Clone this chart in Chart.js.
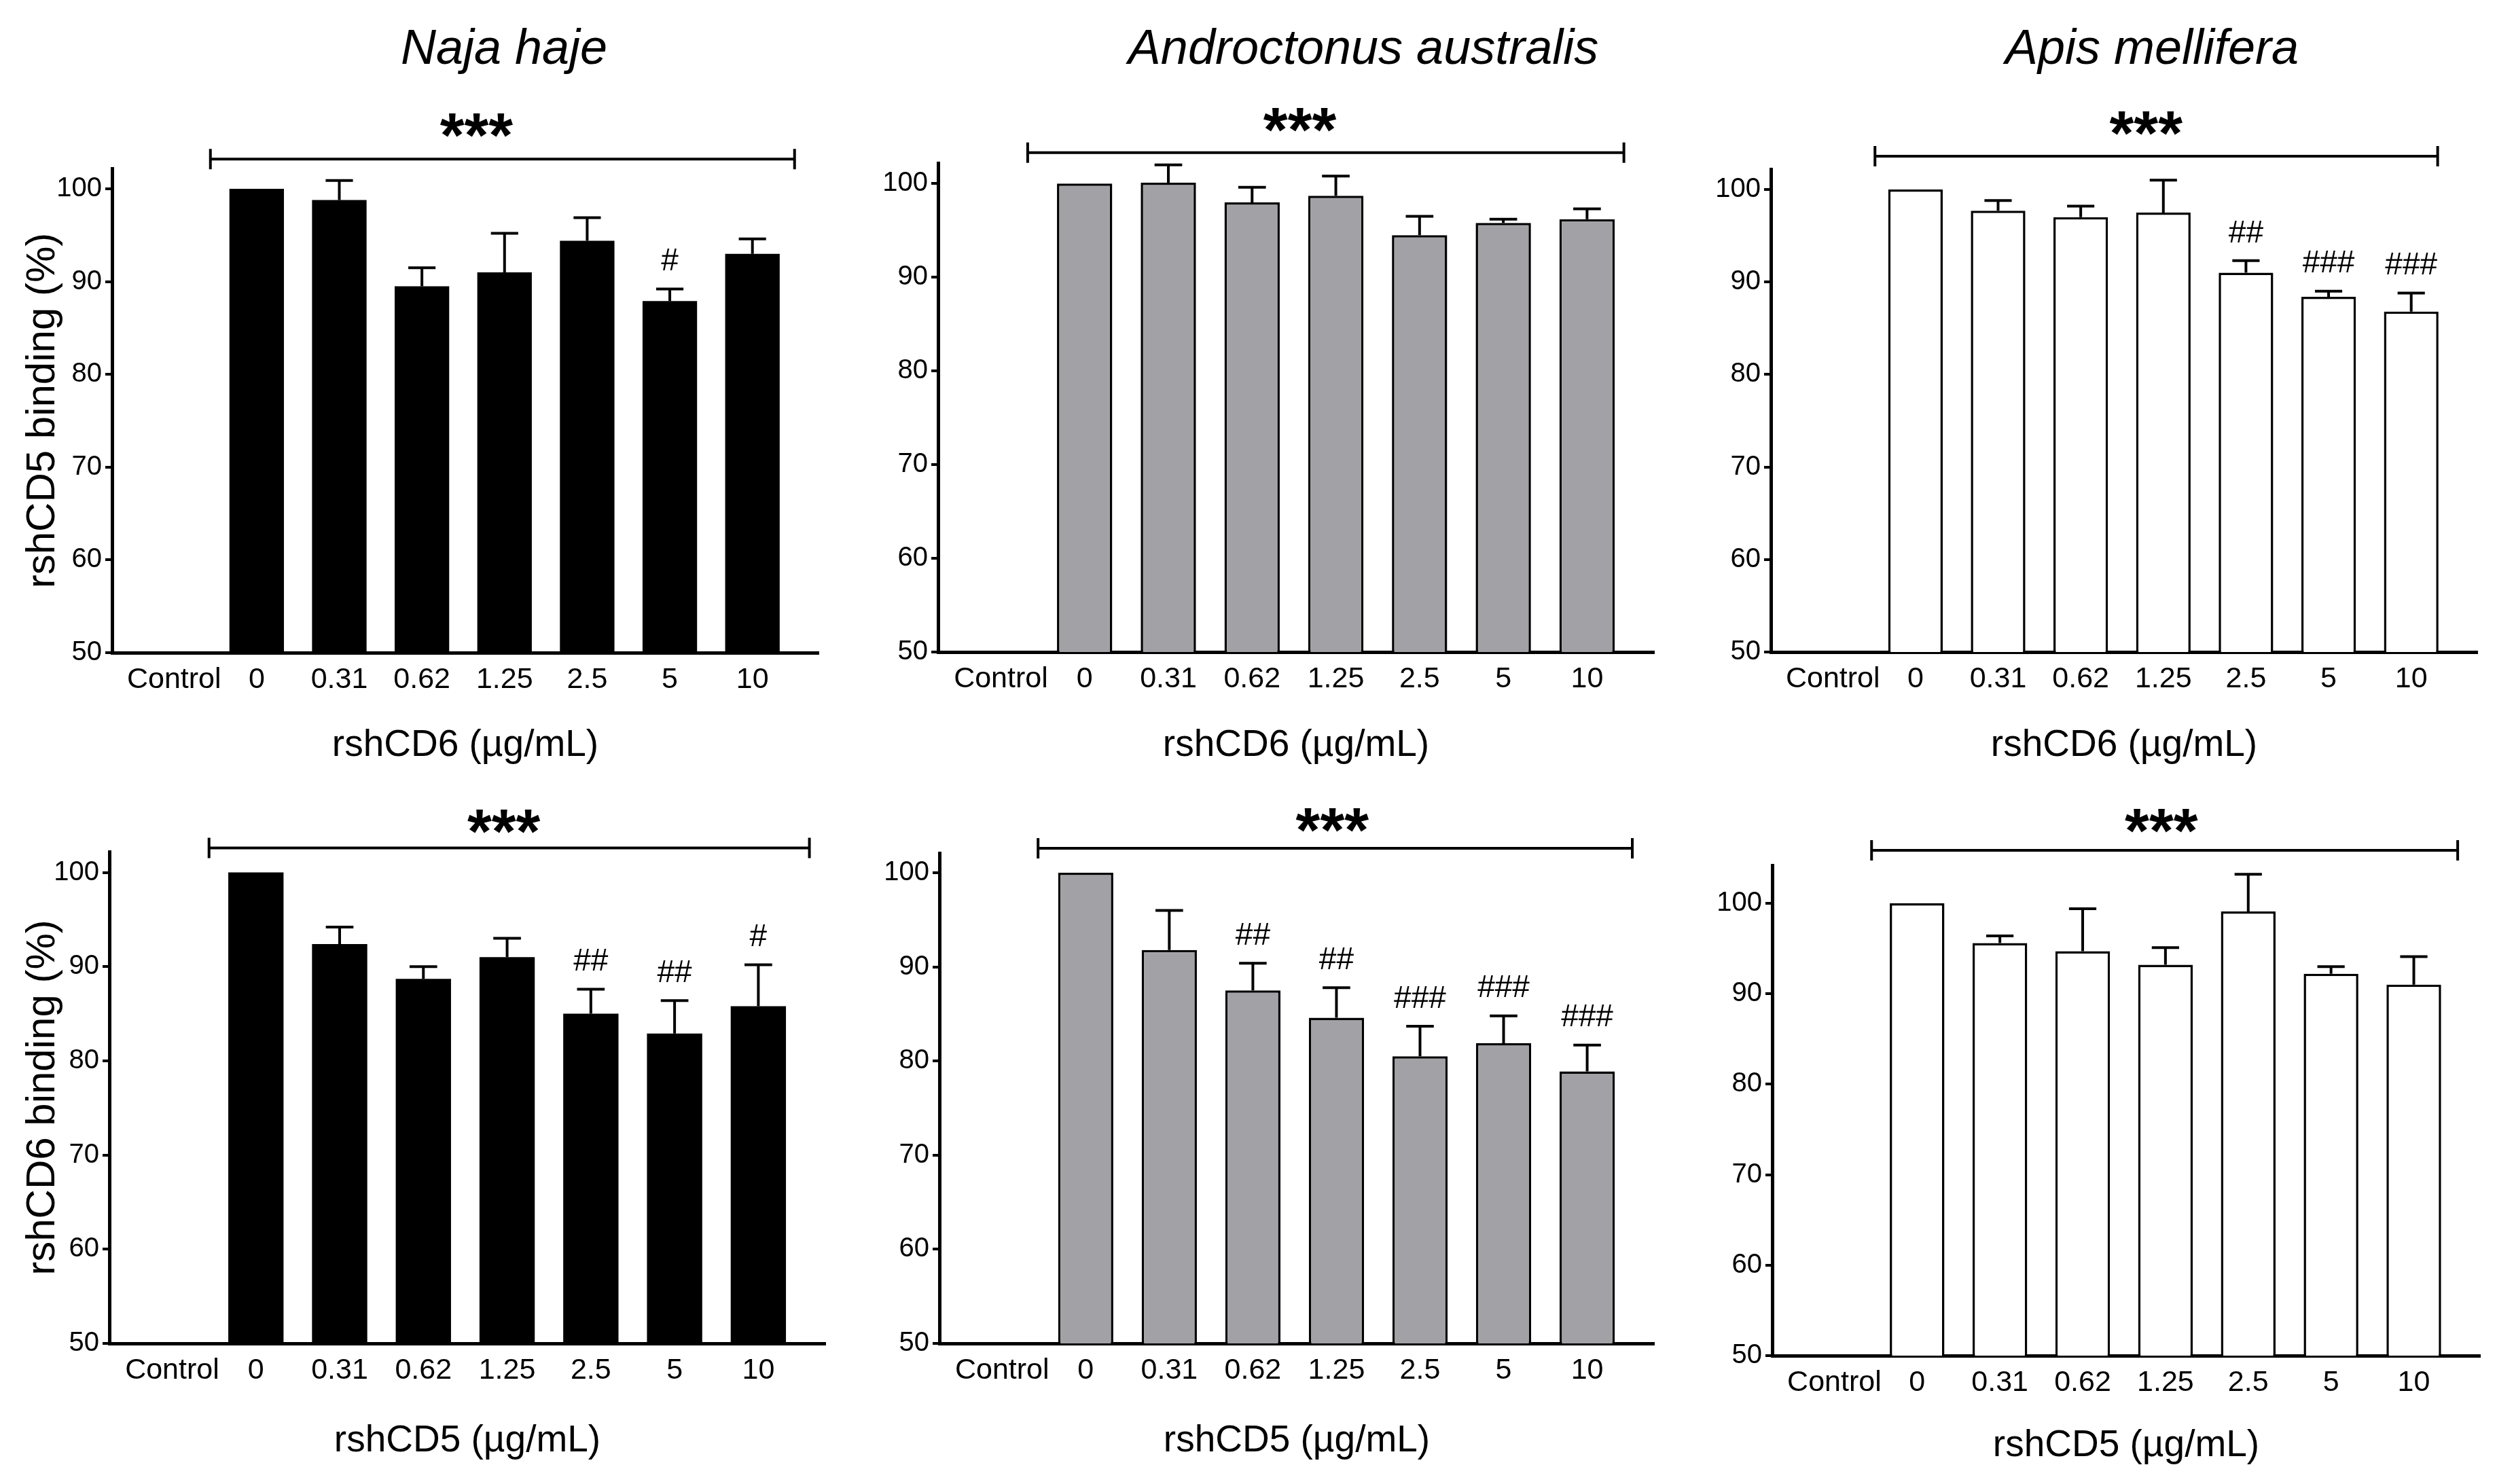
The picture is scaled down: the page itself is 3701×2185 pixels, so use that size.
<!DOCTYPE html>
<html>
<head>
<meta charset="utf-8">
<script src="https://cdn.jsdelivr.net/npm/chart.js@4.4.0/dist/chart.umd.min.js"></script>
<style>
  html, body { margin: 0; padding: 0; background: #fff; }
  body { width: 3701px; height: 2185px; position: relative; overflow: hidden; }
  canvas { position: absolute; }
</style>
</head>
<body>
<script>
const categories = ['Control', '0', '0.31', '0.62', '1.25', '2.5', '5', '10'];
const yTicks = [50, 60, 70, 80, 90, 100];

// top row: rshCD5 binding (%) against rshCD6
const najaCD5 = [null, 100, 98.8, 89.5, 91.0, 94.4, 87.9, 93.0];
const najaCD5Err = [0, 0, 2.1, 2.0, 4.2, 2.5, 1.3, 1.6];
const najaCD5Sig = ['', '', '', '', '', '', '#', ''];

const androCD5 = [null, 100, 100.1, 98.0, 98.7, 94.5, 95.8, 96.2];
const androCD5Err = [0, 0, 1.9, 1.6, 2.1, 2.0, 0.4, 1.1];
const androCD5Sig = ['', '', '', '', '', '', '', ''];

const apisCD5 = [null, 100, 97.7, 97.0, 97.5, 91.0, 88.4, 86.8];
const apisCD5Err = [0, 0, 1.1, 1.2, 3.5, 1.3, 0.6, 2.0];
const apisCD5Sig = ['', '', '', '', '', '##', '###', '###'];

// bottom row: rshCD6 binding (%) against rshCD5
const najaCD6 = [null, 100, 92.4, 88.7, 91.0, 85.0, 82.9, 85.8];
const najaCD6Err = [0, 0, 1.8, 1.3, 2.0, 2.6, 3.5, 4.4];
const najaCD6Sig = ['', '', '', '', '', '##', '##', '#'];

const androCD6 = [null, 100, 91.8, 87.5, 84.6, 80.5, 81.9, 78.9];
const androCD6Err = [0, 0, 4.2, 2.9, 3.2, 3.2, 2.9, 2.8];
const androCD6Sig = ['', '', '', '##', '##', '###', '###', '###'];

const apisCD6 = [null, 100, 95.6, 94.7, 93.2, 99.1, 92.2, 91.0];
const apisCD6Err = [0, 0, 0.8, 4.7, 1.9, 4.1, 0.8, 3.1];
const apisCD6Sig = ['', '', '', '', '', '', '', ''];

const speciesTitles = ['Naja haje', 'Androctonus australis', 'Apis mellifera'];
const yTitles = ['rshCD5 binding (%)', 'rshCD6 binding (%)'];
const xTitles = ['rshCD6 (\u00b5g/mL)', 'rshCD5 (\u00b5g/mL)'];
const overallSig = '***';

const BLACK = '#000000';
const GREY = '#a2a1a6';
const WHITE = '#ffffff';
const FONT = "'Liberation Sans', Arial, Helvetica, sans-serif";

// page geometry of every plot area (pixels)
const panels = [
  { values: najaCD5, errors: najaCD5Err, sig: najaCD5Sig, fill: BLACK, border: 0,
    title: speciesTitles[0], yTitle: yTitles[0], xTitle: xTitles[0], top: 0,
    box: { l: 165, r: 1205, t: 248, b: 961 }, yMax: 102.2, titleAt: [742, 74], xTitleY: 1098,
    bracket: { from: 0.44, to: 7.51, y: 103.2, starX: 3.66, starY: 106.6 } },
  { values: androCD5, errors: androCD5Err, sig: androCD5Sig, fill: GREY, border: 3.5,
    title: speciesTitles[1], yTitle: '', xTitle: xTitles[0], top: 0,
    box: { l: 1381, r: 2435, t: 240, b: 960 }, yMax: 102.2, titleAt: [2007, 74], xTitleY: 1098,
    bracket: { from: 0.32, to: 7.44, y: 103.3, starX: 3.57, starY: 106.6 } },
  { values: apisCD5, errors: apisCD5Err, sig: apisCD5Sig, fill: WHITE, border: 3.5,
    title: speciesTitles[2], yTitle: '', xTitle: xTitles[0], top: 0,
    box: { l: 2607, r: 3647, t: 249, b: 960 }, yMax: 102.2, titleAt: [3168, 74], xTitleY: 1098,
    bracket: { from: 0.51, to: 7.32, y: 103.6, starX: 3.79, starY: 106.9 } },
  { values: najaCD6, errors: najaCD6Err, sig: najaCD6Sig, fill: BLACK, border: 0,
    title: '', yTitle: yTitles[1], xTitle: xTitles[1], top: 1140,
    box: { l: 161, r: 1215, t: 1254, b: 1978 }, yMax: 102.2, titleAt: null, xTitleY: 2122,
    bracket: { from: 0.44, to: 7.61, y: 102.6, starX: 3.96, starY: 105.2 } },
  { values: androCD6, errors: androCD6Err, sig: androCD6Sig, fill: GREY, border: 3.5,
    title: '', yTitle: '', xTitle: xTitles[1], top: 1140,
    box: { l: 1383, r: 2435, t: 1256, b: 1978 }, yMax: 102.1, titleAt: null, xTitleY: 2122,
    bracket: { from: 0.43, to: 7.54, y: 102.6, starX: 3.95, starY: 105.4 } },
  { values: apisCD6, errors: apisCD6Err, sig: apisCD6Sig, fill: WHITE, border: 3.5,
    title: '', yTitle: '', xTitle: xTitles[1], top: 1140,
    box: { l: 2609, r: 3651, t: 1274, b: 1996 }, yMax: 104.2, titleAt: null, xTitleY: 2129,
    bracket: { from: 0.45, to: 7.53, y: 105.85, starX: 3.95, starY: 108.9 } }
];

const AXIS_W = 160;
const X_AXIS_H = 190;
const PAD_R = 24;
const X_MIN = -0.75;
const X_MAX = 7.8;
const X_TICK_FONT = 43;
const Y_TICK_FONT = 40;
const X_TITLE_FONT = 55;
const Y_TITLE_FONT = 60;
const STAR_FONT = 92;

function annotations(p, left, top) {
  return {
    id: 'annotations',
    afterDraw(chart) {
      const { ctx, scales: { x, y } } = chart;
      ctx.save();
      ctx.strokeStyle = BLACK;
      ctx.fillStyle = BLACK;
      ctx.lineCap = 'butt';

      // SEM bars (upper half only) and # marks
      p.values.forEach((v, i) => {
        if (v == null) return;
        const px = x.getPixelForValue(i);
        const err = p.errors[i] || 0;
        const yTop = y.getPixelForValue(v + err);
        if (err > 0) {
          const half = x.getPixelForValue(i + 0.165) - px;
          ctx.lineWidth = 4;
          ctx.beginPath();
          ctx.moveTo(px, y.getPixelForValue(v));
          ctx.lineTo(px, yTop);
          ctx.moveTo(px - half, yTop);
          ctx.lineTo(px + half, yTop);
          ctx.stroke();
        }
        if (p.sig[i]) {
          ctx.font = `46px ${FONT}`;
          ctx.textAlign = 'center';
          ctx.textBaseline = 'middle';
          ctx.fillText(p.sig[i], px, yTop - 40);
        }
      });

      // overall bracket with ***
      const b = p.bracket;
      const by = y.getPixelForValue(b.y);
      const bx1 = x.getPixelForValue(b.from);
      const bx2 = x.getPixelForValue(b.to);
      ctx.lineWidth = 4;
      ctx.beginPath();
      ctx.moveTo(bx1, by); ctx.lineTo(bx2, by);
      ctx.moveTo(bx1, by - 15); ctx.lineTo(bx1, by + 15);
      ctx.moveTo(bx2, by - 15); ctx.lineTo(bx2, by + 15);
      ctx.stroke();
      ctx.font = `bold ${STAR_FONT}px ${FONT}`;
      ctx.textAlign = 'center';
      ctx.textBaseline = 'alphabetic';
      ctx.fillText(overallSig, x.getPixelForValue(b.starX), y.getPixelForValue(b.starY) + 0.47 * STAR_FONT);

      // species title
      if (p.title) {
        ctx.font = `italic 72px ${FONT}`;
        ctx.textBaseline = 'middle';
        ctx.fillText(p.title, p.titleAt[0] - left, p.titleAt[1] - top);
      }
      ctx.restore();
    }
  };
}

panels.forEach(p => {
  const left = p.box.l - AXIS_W;
  const top = p.top;
  const padTop = p.box.t - top;
  const width = AXIS_W + (p.box.r - p.box.l) + PAD_R;
  const height = padTop + (p.box.b - p.box.t) + X_AXIS_H;

  const cv = document.createElement('canvas');
  cv.width = width;
  cv.height = height;
  cv.style.left = left + 'px';
  cv.style.top = top + 'px';
  cv.style.width = width + 'px';
  cv.style.height = height + 'px';
  document.body.appendChild(cv);

  const xLine = X_TITLE_FONT * 1.2;
  const yLine = Y_TITLE_FONT * 1.2;
  const xTitlePad = top + height - xLine / 2 - p.xTitleY;
  const yTitlePad = 63 - left - yLine / 2;

  const points = p.values
    .map((v, i) => (v == null ? null : { x: i, y: v }))
    .filter(Boolean);

  new Chart(cv, {
    type: 'bar',
    data: {
      datasets: [{
        data: points,
        backgroundColor: p.fill,
        borderColor: BLACK,
        borderWidth: p.border,
        borderSkipped: 'start',
        barPercentage: 0.66,
        categoryPercentage: 1
      }]
    },
    options: {
      responsive: false,
      animation: false,
      events: [],
      layout: { padding: { top: padTop, right: PAD_R, bottom: 0, left: 0 } },
      plugins: { legend: { display: false }, tooltip: { enabled: false }, title: { display: false } },
      scales: {
        x: {
          type: 'linear',
          offset: false,
          min: X_MIN,
          max: X_MAX,
          afterBuildTicks: axis => { axis.ticks = categories.map((c, i) => ({ value: i })); },
          afterFit: axis => { axis.height = X_AXIS_H; },
          ticks: {
            autoSkip: false,
            maxRotation: 0,
            minRotation: 0,
            padding: 14,
            color: BLACK,
            font: { family: FONT, size: X_TICK_FONT },
            callback: (v, i) => categories[i]
          },
          grid: { display: false, drawTicks: false, offset: false },
          border: { display: true, color: BLACK, width: 5 },
          title: {
            display: true,
            text: p.xTitle,
            color: BLACK,
            font: { family: FONT, size: X_TITLE_FONT },
            padding: { top: 0, bottom: xTitlePad }
          }
        },
        y: {
          type: 'linear',
          min: 50,
          max: p.yMax,
          afterBuildTicks: axis => { axis.ticks = yTicks.map(v => ({ value: v })); },
          afterFit: axis => { axis.width = AXIS_W; },
          ticks: {
            padding: 5,
            color: BLACK,
            font: { family: FONT, size: Y_TICK_FONT }
          },
          grid: {
            display: true,
            drawOnChartArea: false,
            drawTicks: true,
            tickLength: 10,
            color: BLACK,
            lineWidth: 4
          },
          border: { display: true, color: BLACK, width: 5 },
          title: {
            display: !!p.yTitle,
            text: p.yTitle,
            color: BLACK,
            font: { family: FONT, size: Y_TITLE_FONT },
            padding: { top: yTitlePad, bottom: 0 }
          }
        }
      }
    },
    plugins: [annotations(p, left, top)]
  });
});
</script>
</body>
</html>
